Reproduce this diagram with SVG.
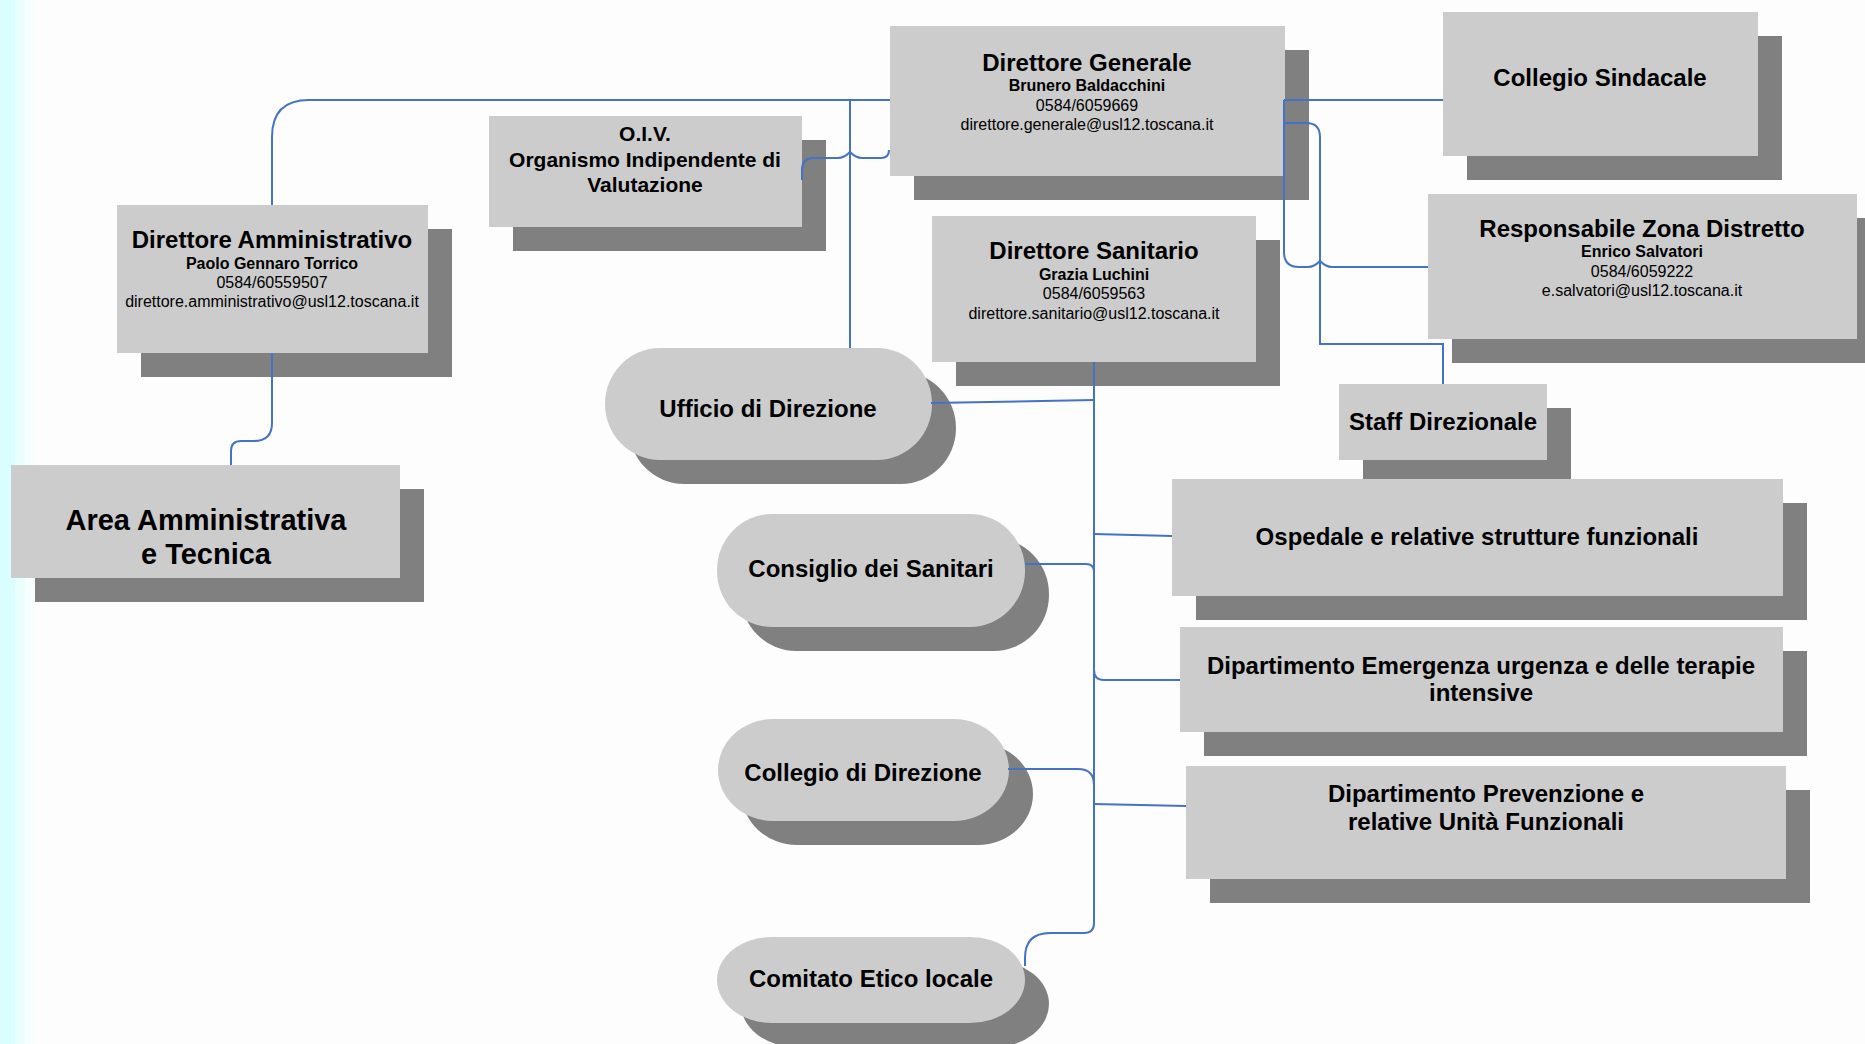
<svg xmlns="http://www.w3.org/2000/svg" width="1865" height="1044" viewBox="0 0 1865 1044">
<defs>
<style>
.box{fill:#cccccc}
.sh{fill:#808080}
.t{font-family:"Liberation Sans",Arial,sans-serif;fill:#000;text-anchor:middle}
.h{font-size:24px;font-weight:bold}
.o{font-size:21px;font-weight:bold}
.a{font-size:29px;font-weight:bold}
.n{font-size:16px;font-weight:bold}
.s{font-size:16px}
.c{fill:none;stroke:#4472c4;stroke-width:2}
</style>
</defs>
<rect x="0" y="0" width="1865" height="1044" fill="#fdfdfd"/>
<rect x="0" y="0" width="15" height="1044" fill="#dafefe"/>
<rect x="15" y="0" width="10" height="1044" fill="#eafefe"/>
<rect x="25" y="0" width="10" height="1044" fill="#f6fefe"/>

<g id="direttore-generale">
<rect class="sh" x="914" y="50" width="395" height="150"/>
<rect class="box" x="890" y="26" width="395" height="150"/>
<text class="t h" x="1087" y="71">Direttore Generale</text>
<text class="t n" x="1087" y="91">Brunero Baldacchini</text>
<text class="t s" x="1087" y="111">0584/6059669</text>
<text class="t s" x="1087" y="130">direttore.generale@usl12.toscana.it</text>
</g>

<g id="collegio-sindacale">
<rect class="sh" x="1467" y="36" width="315" height="144"/>
<rect class="box" x="1443" y="12" width="315" height="144"/>
<text class="t h" x="1600" y="86">Collegio Sindacale</text>
</g>

<g id="oiv">
<rect class="sh" x="513" y="140" width="313" height="111"/>
<rect class="box" x="489" y="116" width="313" height="111"/>
<text class="t o" x="645" y="141">O.I.V.</text>
<text class="t o" x="645" y="167">Organismo Indipendente di</text>
<text class="t o" x="645" y="192">Valutazione</text>
</g>

<g id="direttore-amministrativo">
<rect class="sh" x="141" y="229" width="311" height="148"/>
<rect class="box" x="117" y="205" width="311" height="148"/>
<text class="t h" x="272" y="248">Direttore Amministrativo</text>
<text class="t n" x="272" y="269">Paolo Gennaro Torrico</text>
<text class="t s" x="272" y="288">0584/60559507</text>
<text class="t s" x="272" y="307">direttore.amministrativo@usl12.toscana.it</text>
</g>

<g id="direttore-sanitario">
<rect class="sh" x="956" y="240" width="324" height="146"/>
<rect class="box" x="932" y="216" width="324" height="146"/>
<text class="t h" x="1094" y="259">Direttore Sanitario</text>
<text class="t n" x="1094" y="280">Grazia Luchini</text>
<text class="t s" x="1094" y="299">0584/6059563</text>
<text class="t s" x="1094" y="319">direttore.sanitario@usl12.toscana.it</text>
</g>

<g id="responsabile-zona-distretto">
<rect class="sh" x="1452" y="218" width="429" height="145"/>
<rect class="box" x="1428" y="194" width="429" height="145"/>
<text class="t h" x="1642" y="237">Responsabile Zona Distretto</text>
<text class="t n" x="1642" y="257">Enrico Salvatori</text>
<text class="t s" x="1642" y="277">0584/6059222</text>
<text class="t s" x="1642" y="296">e.salvatori@usl12.toscana.it</text>
</g>

<g id="staff-direzionale">
<rect class="sh" x="1363" y="408" width="208" height="76"/>
<rect class="box" x="1339" y="384" width="208" height="76"/>
<text class="t h" x="1443" y="430">Staff Direzionale</text>
</g>

<g id="area-amministrativa">
<rect class="sh" x="35" y="489" width="389" height="113"/>
<rect class="box" x="11" y="465" width="389" height="113"/>
<text class="t a" x="206" y="530">Area Amministrativa</text>
<text class="t a" x="206" y="564">e Tecnica</text>
</g>

<g id="ufficio-direzione">
<rect class="sh" x="629" y="372" width="327" height="112" rx="55" ry="56"/>
<rect class="box" x="605" y="348" width="327" height="112" rx="55" ry="56"/>
<text class="t h" x="768" y="417">Ufficio di Direzione</text>
</g>

<g id="consiglio-sanitari">
<rect class="sh" x="741" y="538" width="308" height="113" rx="55" ry="56"/>
<rect class="box" x="717" y="514" width="308" height="113" rx="55" ry="56"/>
<text class="t h" x="871" y="577">Consiglio dei Sanitari</text>
</g>

<g id="collegio-direzione">
<rect class="sh" x="742" y="743" width="291" height="102" rx="55" ry="51"/>
<rect class="box" x="718" y="719" width="291" height="102" rx="55" ry="51"/>
<text class="t h" x="863" y="781">Collegio di Direzione</text>
</g>

<g id="comitato-etico">
<rect class="sh" x="741" y="961" width="308" height="86" rx="55" ry="43"/>
<rect class="box" x="717" y="937" width="308" height="86" rx="55" ry="43"/>
<text class="t h" x="871" y="987">Comitato Etico locale</text>
</g>

<g id="ospedale">
<rect class="sh" x="1196" y="503" width="611" height="117"/>
<rect class="box" x="1172" y="479" width="611" height="117"/>
<text class="t h" x="1477" y="545">Ospedale e relative strutture funzionali</text>
</g>

<g id="dipartimento-emergenza">
<rect class="sh" x="1204" y="651" width="603" height="105"/>
<rect class="box" x="1180" y="627" width="603" height="105"/>
<text class="t h" x="1481" y="674">Dipartimento Emergenza urgenza e delle terapie</text>
<text class="t h" x="1481" y="701">intensive</text>
</g>

<g id="dipartimento-prevenzione">
<rect class="sh" x="1210" y="790" width="600" height="113"/>
<rect class="box" x="1186" y="766" width="600" height="113"/>
<text class="t h" x="1486" y="802">Dipartimento Prevenzione e</text>
<text class="t h" x="1486" y="830">relative Unità Funzionali</text>
</g>

<g id="connectors">
<path class="c" d="M890 100 L309 100 Q272 100 272 137 L272 205"/>
<path class="c" d="M850 100 L850 348"/>
<path class="c" d="M802 180 L802 170 Q802 158 814 158 L838 158 Q844 158 850 152 Q856 158 862 158 L881 158 Q889 158 889 150"/>
<path class="c" d="M272 353 L272 423 Q272 441 254 441 L241 441 Q231 441 231 451 L231 465"/>
<path class="c" d="M1284 100 L1443 100"/>
<path class="c" d="M1284 100 L1284 252 Q1284 267 1299 267 L1308 267 Q1314 267 1320 261 Q1326 267 1332 267 L1428 267"/>
<path class="c" d="M1285 123 L1306 123 Q1320 123 1320 137 L1320 344 L1443 344 L1443 384"/>
<path class="c" d="M1094 362 L1094 923 Q1094 933 1084 933 L1050 933 Q1025 933 1025 958 L1025 966"/>
<path class="c" d="M931 403 L1094 400"/>
<path class="c" d="M1025 564 L1086 564 Q1094 564 1094 572"/>
<path class="c" d="M1094 534 L1172 536"/>
<path class="c" d="M1094 670 Q1094 680 1104 680 L1180 680"/>
<path class="c" d="M1008 769 L1078 769 Q1094 769 1094 785"/>
<path class="c" d="M1094 804 L1186 806"/>
</g>
</svg>
